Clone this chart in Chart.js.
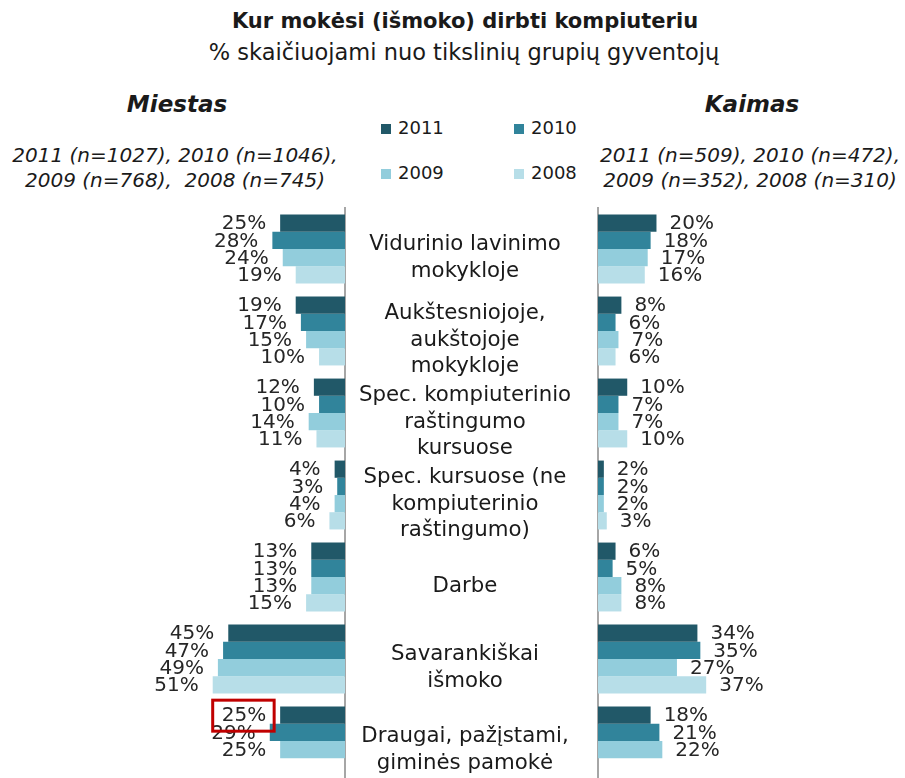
<!DOCTYPE html>
<html>
<head>
<meta charset="utf-8">
<script src="https://cdn.jsdelivr.net/npm/chart.js@4.4.0/dist/chart.umd.min.js"></script>
<style>
  html, body { margin: 0; padding: 0; background: #fff; width: 905px; height: 778px; overflow: hidden; }
  body { position: relative; font-family: "DejaVu Sans", Verdana, sans-serif; color: #1a1a1a; }
  .txt { position: absolute; white-space: nowrap; line-height: 1.164; }
  .sw { position: absolute; width: 10px; height: 10px; }
  canvas { position: absolute; left: 0; top: 0; }
</style>
</head>
<body>

<div class="txt" style="left:0;width:930px;text-align:center;top:9px;font-weight:bold;font-size:21px;">Kur mokėsi (išmoko) dirbti kompiuteriu</div>
<div class="txt" style="left:0;width:928px;text-align:center;top:39px;font-size:22.5px;">% skaičiuojami nuo tikslinių grupių gyventojų</div>

<div class="txt" style="left:0;width:354px;text-align:center;top:91px;font-weight:bold;font-style:italic;font-size:23px;">Miestas</div>
<div class="txt" style="left:452px;width:600px;text-align:center;top:91px;font-weight:bold;font-style:italic;font-size:23px;">Kaimas</div>

<div class="txt" style="left:0;width:350px;text-align:center;top:143px;font-style:italic;font-size:20px;line-height:24.5px;">2011 (n=1027), 2010 (n=1046),<br>2009 (n=768),&nbsp; 2008 (n=745)</div>
<div class="txt" style="left:450px;width:600px;text-align:center;top:143px;font-style:italic;font-size:20px;line-height:24.5px;">2011 (n=509), 2010 (n=472),<br>2009 (n=352), 2008 (n=310)</div>

<div id="legend"></div>

<canvas id="miestas" width="905" height="782"></canvas>
<canvas id="kaimas" width="905" height="782"></canvas>

<script>
// ------------------------- DATA ----------------------------------------------

var categories = [
  ["Vidurinio lavinimo", "mokykloje"],
  ["Aukštesniojoje,", "aukštojoje", "mokykloje"],
  ["Spec. kompiuterinio", "raštingumo", "kursuose"],
  ["Spec. kursuose (ne", "kompiuterinio", "raštingumo)"],
  ["Darbe"],
  ["Savarankiškai", "išmoko"],
  ["Draugai, pažįstami,", "giminės pamokė"]
];

var years = ["2011", "2010", "2009", "2008"];
var colors = ["#215868", "#31849B", "#92CDDC", "#B7DEE8"];

// Miestas (city)
var miestas2011 = [25, 19, 12, 4, 13, 45, 25];
var miestas2010 = [28, 17, 10, 3, 13, 47, 29];
var miestas2009 = [24, 15, 14, 4, 13, 49, 25];
var miestas2008 = [19, 10, 11, 6, 15, 51, null];

// Kaimas (countryside)
var kaimas2011 = [20, 8, 10, 2, 6, 34, 18];
var kaimas2010 = [18, 6, 7, 2, 5, 35, 21];
var kaimas2009 = [17, 7, 7, 2, 8, 27, 22];
var kaimas2008 = [16, 6, 10, 3, 8, 37, null];

// the label marked with a red frame (Miestas, 2011, last category)
var highlight = { dataset: 0, index: 6 };

// ------------------------- LEGEND --------------------------------------------

function makeLegend() {
  var box = document.getElementById('legend');
  var colX = [381, 514];
  var rowY = [124, 169];
  for (var i = 0; i < years.length; i++) {
    var x = colX[i % 2];
    var y = rowY[Math.floor(i / 2)];
    var sw = document.createElement('div');
    sw.className = 'sw';
    sw.style.left = x + 'px';
    sw.style.top = y + 'px';
    sw.style.background = colors[i];
    box.appendChild(sw);
    var t = document.createElement('div');
    t.className = 'txt';
    t.style.left = (x + 17) + 'px';
    t.style.top = (y - 6) + 'px';
    t.style.fontSize = '18px';
    t.textContent = years[i];
    box.appendChild(t);
  }
}

// ------------------------- PLUGINS -------------------------------------------

// percent labels at the end of every bar
var valueLabels = {
  id: 'valueLabels',
  afterDatasetsDraw: function(chart) {
    var ctx = chart.ctx;
    var left = chart.options.scales.x.reverse;
    ctx.save();
    ctx.font = '20px "DejaVu Sans"';
    ctx.fillStyle = '#262626';
    ctx.textBaseline = 'middle';
    ctx.textAlign = left ? 'right' : 'left';
    chart.data.datasets.forEach(function(ds, i) {
      chart.getDatasetMeta(i).data.forEach(function(bar, j) {
        if (ds.data[j] === null) return;
        var x = left ? bar.x - 14 : bar.x + 13;
        ctx.fillText(ds.data[j] + '%', x, bar.y + 1);
      });
    });
    ctx.restore();
  }
};

// category names in the middle column
var categoryLabels = {
  id: 'categoryLabels',
  afterDraw: function(chart) {
    var ctx = chart.ctx;
    var yScale = chart.scales.y;
    var lineH = 26.7;
    ctx.save();
    ctx.font = '21.3px "DejaVu Sans"';
    ctx.fillStyle = '#1a1a1a';
    ctx.textAlign = 'center';
    ctx.textBaseline = 'middle';
    categories.forEach(function(lines, i) {
      var cy = yScale.getPixelForValue(i) + 9;
      var top = cy - (lines.length - 1) * lineH / 2;
      lines.forEach(function(t, k) {
        ctx.fillText(t, 465, top + k * lineH);
      });
    });
    ctx.restore();
  }
};

// red frame round one label
var highlightBox = {
  id: 'highlightBox',
  afterDatasetsDraw: function(chart) {
    var ctx = chart.ctx;
    var bar = chart.getDatasetMeta(highlight.dataset).data[highlight.index];
    var value = chart.data.datasets[highlight.dataset].data[highlight.index];
    ctx.save();
    ctx.font = '20px "DejaVu Sans"';
    var w = ctx.measureText(value + '%').width;
    var right = bar.x - 14;
    ctx.strokeStyle = '#C00000';
    ctx.lineWidth = 3;
    ctx.strokeRect(right - w - 9, bar.y - 15, w + 17, 31);
    ctx.restore();
  }
};

// ------------------------- CHARTS --------------------------------------------

function makeChart(id, series, side, maxValue, extra) {
  var left = side === 'left';
  var datasets = series.map(function(d, i) {
    return {
      label: years[i],
      data: d,
      backgroundColor: colors[i],
      borderWidth: 0,
      categoryPercentage: 0.84,
      barPercentage: 1.0
    };
  });
  return new Chart(document.getElementById(id), {
    type: 'bar',
    data: { labels: categories.map(function(c) { return c.join(' '); }), datasets: datasets },
    options: {
      indexAxis: 'y',
      responsive: false,
      animation: false,
      layout: {
        padding: left ? { top: 208, right: 560, left: 0, bottom: 0 }
                      : { top: 208, right: 0, left: 598, bottom: 0 }
      },
      plugins: { legend: { display: false }, tooltip: { enabled: false } },
      scales: {
        x: { display: false, reverse: left, min: 0, max: maxValue },
        y: {
          position: left ? 'right' : 'left',
          z: 1,
          ticks: { display: false },
          grid: { display: false, drawTicks: false },
          border: { display: true, color: '#a6a6a6', width: 2 }
        }
      }
    },
    plugins: [valueLabels].concat(extra)
  });
}

makeLegend();
makeChart('miestas', [miestas2011, miestas2010, miestas2009, miestas2008], 'left', 133, [categoryLabels, highlightBox]);
makeChart('kaimas', [kaimas2011, kaimas2010, kaimas2009, kaimas2008], 'right', 105, []);
</script>
</body>
</html>
